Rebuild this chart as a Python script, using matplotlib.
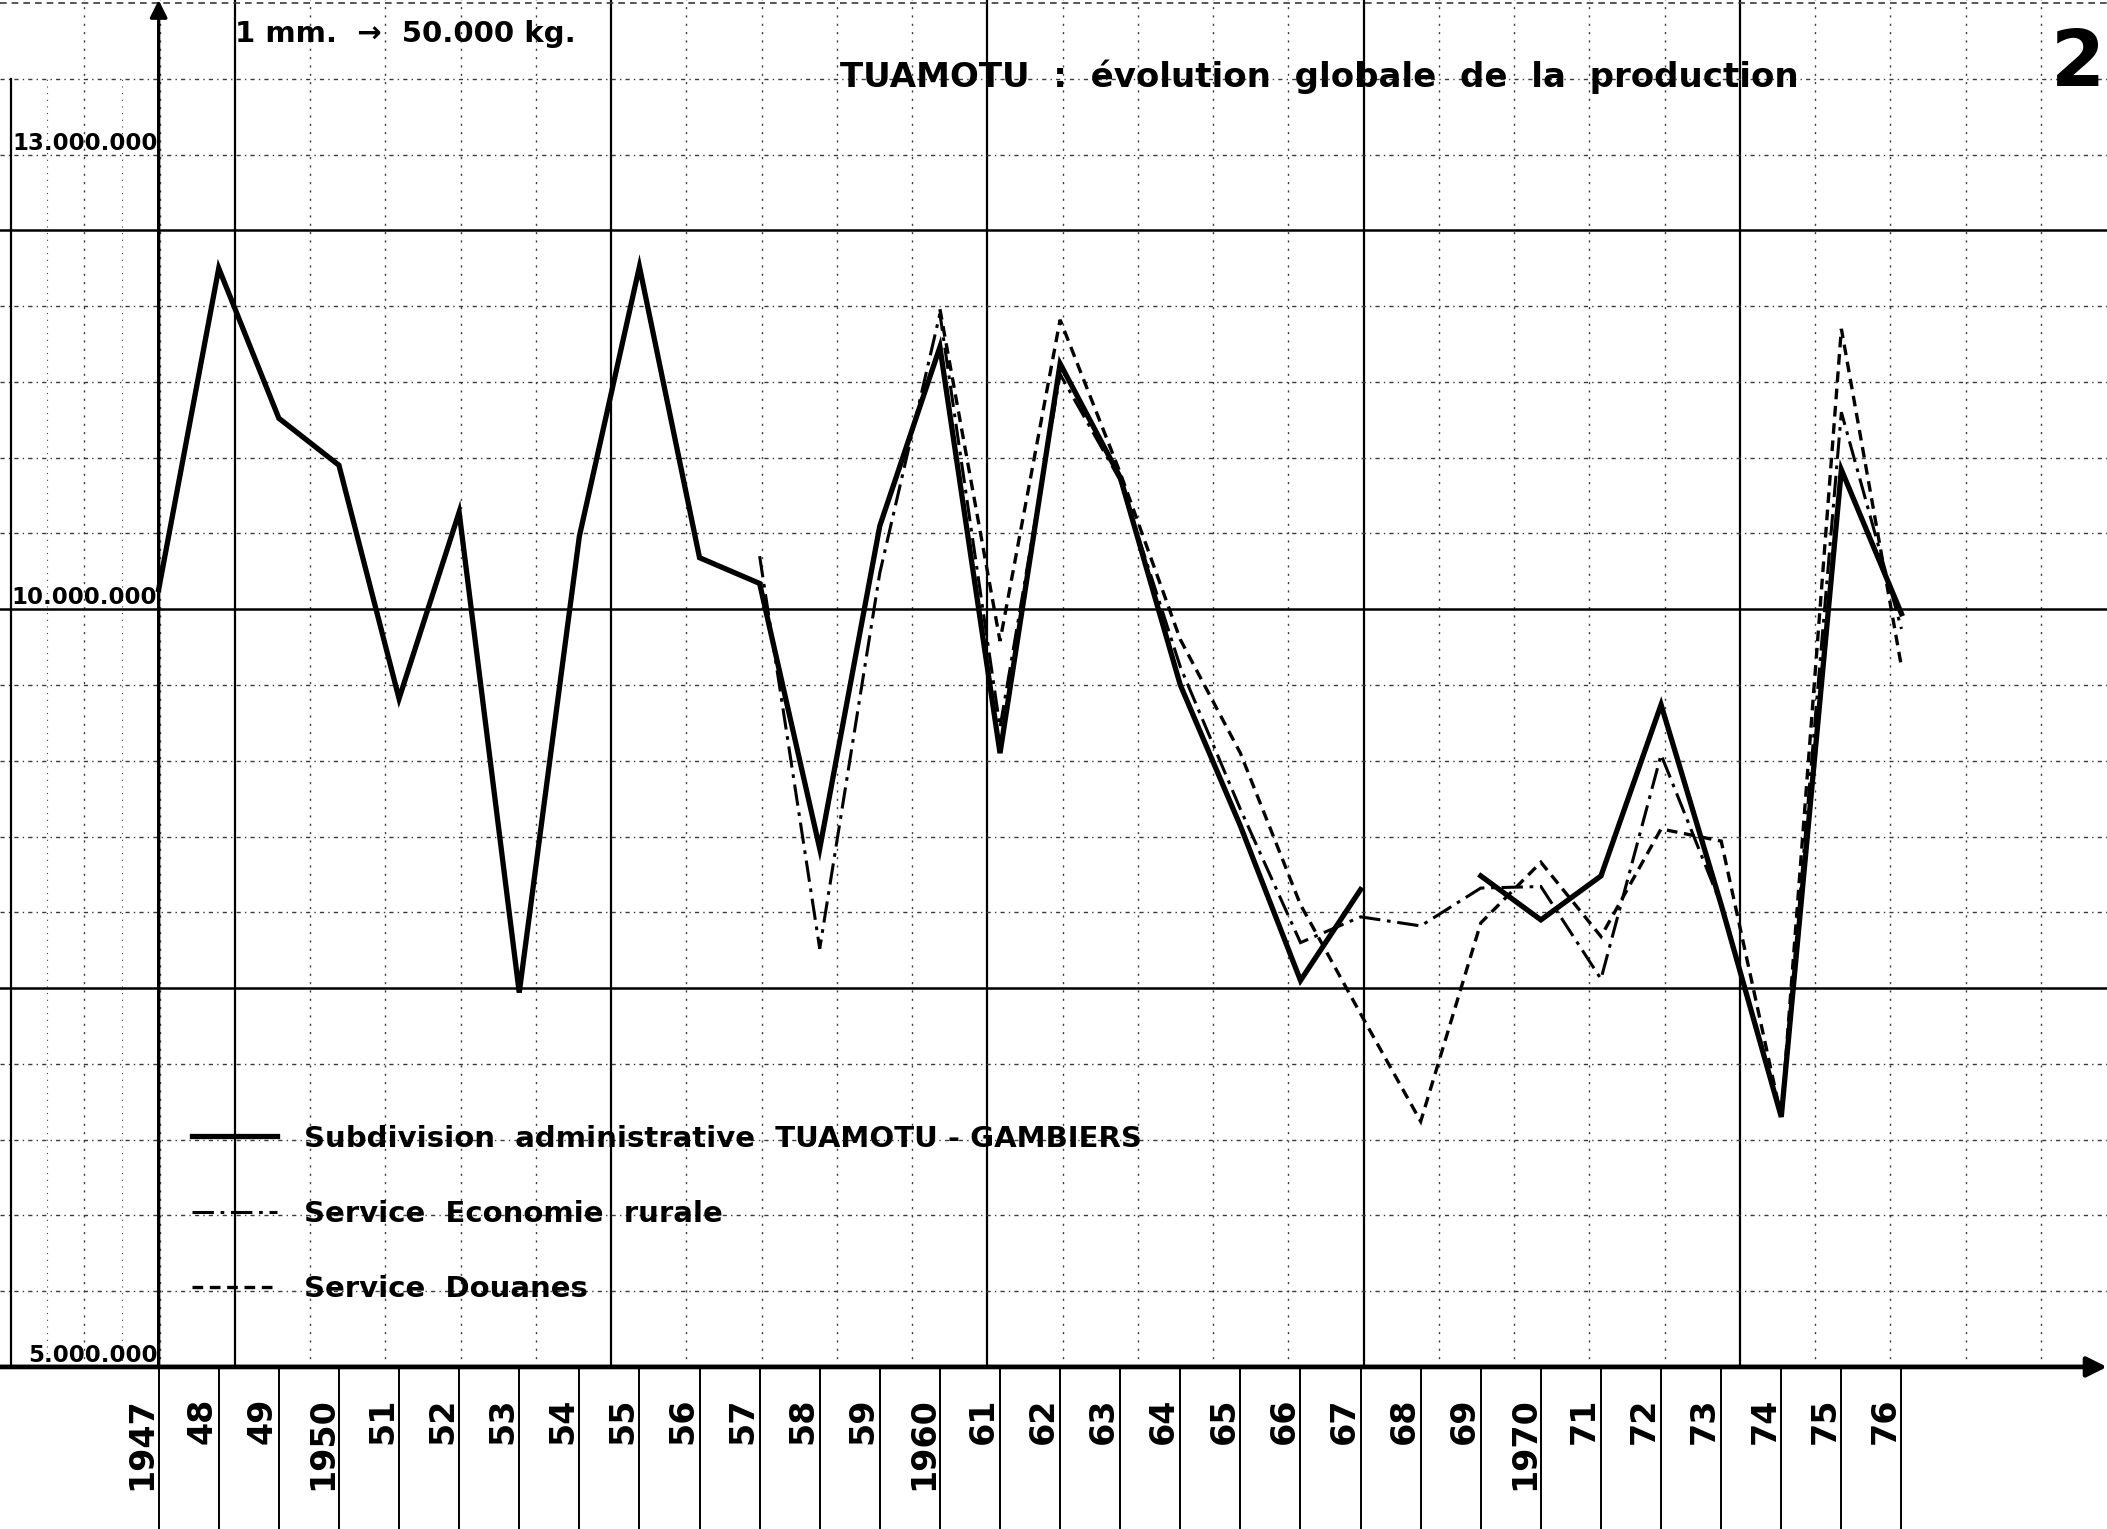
import matplotlib
matplotlib.use("Agg")
import matplotlib.pyplot as plt

# ---------------- data (values in millions of kg) ----------------
years = list(range(1947, 1977))
year_labels = ["1947", "48", "49", "1950", "51", "52", "53", "54", "55", "56",
               "57", "58", "59", "1960", "61", "62", "63", "64", "65", "66",
               "67", "68", "69", "1970", "71", "72", "73", "74", "75", "76"]

nan = float("nan")
subdivision = [10.13, 12.25, 11.26, 10.95, 9.41, 10.64, 7.47, 10.48, 12.26, 10.34,
               10.17, 8.42, 10.55, 11.73, 9.05, 11.62, 10.87, 9.50, 8.57, 7.55,
               8.15, nan, 8.24, 7.95, 8.24, 9.37, 8.05, 6.65, 10.92, 9.97]
economie = [nan, nan, nan, nan, nan, nan, nan, nan, nan, nan,
            10.35, 7.76, 10.24, 11.95, 9.22, 11.55, 10.85, 9.62, 8.68, 7.80,
            7.97, 7.91, 8.16, 8.17, 7.56, 9.04, 8.05, 6.65, 11.30, 9.87]
douanes = [nan, nan, nan, nan, nan, nan, nan, nan, nan, nan,
           nan, nan, nan, 11.98, 9.79, 11.91, 10.90, 9.80, 9.05, 8.05,
           7.33, 6.62, 7.93, 8.33, 7.84, 8.55, 8.47, 6.65, 11.85, 9.62]

ytick_values = [5, 10, 13]
ytick_labels = ["5.000.000", "10.000.000", "13.000.000"]

series_labels = ["Subdivision  administrative  TUAMOTU - GAMBIERS",
                 "Service  Economie  rurale",
                 "Service  Douanes"]

title = "TUAMOTU  :  évolution  globale  de  la  production"
scale_note = "1 mm.  \u2192  50.000 kg."

# ---------------- figure ----------------
fig = plt.figure(figsize=(21.07, 15.29), dpi=100)
fig.patch.set_facecolor("white")
ax = fig.add_axes([0.0, 0.106, 1.0, 0.894])
ax.set_facecolor("white")
X0, X1 = 1944.36, 1979.42
Y0, Y1 = 5.0, 14.02
ax.set_xlim(X0, X1)
ax.set_ylim(Y0, Y1)
for s in ax.spines.values():
    s.set_visible(False)
ax.spines["left"].set_position(("data", 1947))
ax.spines["bottom"].set_position(("data", Y0))

# graph-paper grid
heavy_x0, heavy_step = 1948.27, 6.26
grid_col = "#3a3a3a"
for k in range(-2, 26):
    xv = heavy_x0 + k * heavy_step / 5
    if xv >= X1:
        break
    if k % 5 == 0:
        ax.axvline(xv, color="black", lw=1.6, zorder=1)
    else:
        ax.axvline(xv, color=grid_col, lw=1.0, ls=(0, (1.5, 4.5)), zorder=1)
# finer paper lines in the left margin
for xv in [1945.14, 1946.39]:
    ax.plot([xv, xv], [Y0, 13.5], color=grid_col, lw=0.8, ls=(0, (1, 5)), zorder=1)
yv = 5.5
while yv < 14.0:
    if abs(yv - 7.5) < 1e-6 or abs(yv - 10) < 1e-6 or abs(yv - 12.5) < 1e-6:
        ax.axhline(yv, color="black", lw=1.8, zorder=1)
    else:
        ax.axhline(yv, color=grid_col, lw=1.0, ls=(0, (3, 3, 1, 3)), zorder=1)
    yv += 0.5
ax.axhline(14.0, color=grid_col, lw=1.2, ls=(0, (4, 3)), zorder=1)
ax.plot([1944.54, 1944.54], [Y0, 13.5], color="black", lw=1.6, zorder=1)

# axes with arrows
ax.annotate("", xy=(1947, Y1), xytext=(1947, Y0),
            arrowprops=dict(arrowstyle="-|>", color="black", lw=2.4,
                            mutation_scale=26, shrinkA=0, shrinkB=0), zorder=6)
ax.annotate("", xy=(X1, Y0), xytext=(X0, Y0),
            arrowprops=dict(arrowstyle="-|>", color="black", lw=3.4,
                            mutation_scale=30, shrinkA=0, shrinkB=0),
            annotation_clip=False, zorder=6)

# series
l3, = ax.plot(years, douanes, color="black", lw=2.4, ls=(0, (3.2, 2.0)),
              zorder=4, solid_joinstyle="miter", dash_joinstyle="miter")
l2, = ax.plot(years, economie, color="black", lw=2.2, ls=(0, (7, 2.2, 1.2, 2.2)),
              zorder=4, solid_joinstyle="miter", dash_joinstyle="miter")
l1, = ax.plot(years, subdivision, color="black", lw=3.8, zorder=5,
              solid_joinstyle="miter")

# ticks
ax.set_xticks(years)
ax.set_xticklabels(year_labels, rotation=90, ha="right", va="top",
                   fontsize=24, fontweight="bold")
ax.tick_params(axis="x", direction="out", length=118, width=1.4, pad=-96,
               color="black")
ax.set_yticks(ytick_values)
ax.set_yticklabels(ytick_labels, fontsize=16.5, fontweight="bold")
ax.tick_params(axis="y", length=0, pad=1)
for t in ax.get_yticklabels():
    t.set_va("bottom")

# legend
leg = ax.legend(handles=[l1, l2, l3], labels=series_labels, loc="upper left",
                bbox_to_anchor=(0.0911, 0.2645), bbox_transform=fig.transFigure,
                frameon=False, prop=dict(size=21, weight="bold"),
                handlelength=2.9, handletextpad=0.95, labelspacing=1.62,
                borderpad=0, borderaxespad=0)
leg.set_zorder(7)

# texts
fig.text(0.3987, 0.950, title, fontsize=24.5, fontweight="bold", ha="left", va="center")
fig.text(0.1115, 0.978, scale_note, fontsize=21, fontweight="bold", ha="left", va="center")
fig.text(0.9735, 0.958, "2", fontsize=56, fontweight="bold", ha="left", va="center")

fig.savefig("out.png", dpi=100, facecolor="white")
